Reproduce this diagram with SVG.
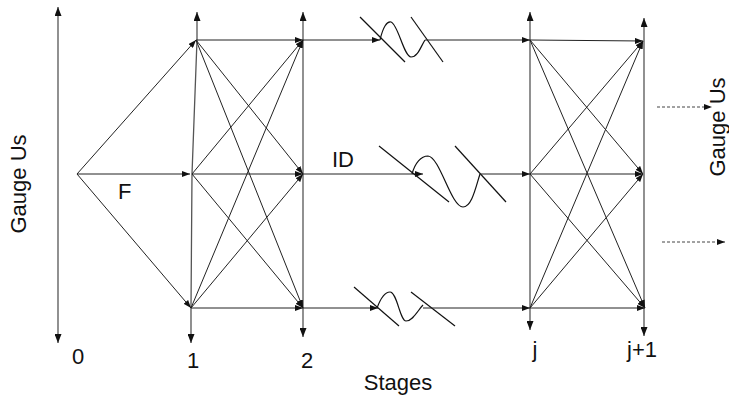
<svg xmlns="http://www.w3.org/2000/svg" width="729" height="396" viewBox="0 0 729 396">
<defs>
<marker id="ah" markerUnits="userSpaceOnUse" markerWidth="9" markerHeight="7" refX="9" refY="3.5" orient="auto-start-reverse">
<path d="M0,0 L9,3.5 L0,7 z" fill="#111"/>
</marker>
<marker id="ahs" markerUnits="userSpaceOnUse" markerWidth="8" markerHeight="6" refX="8" refY="3" orient="auto">
<path d="M0,0 L8,3 L0,6 z" fill="#111"/>
</marker>
</defs>
<style>
.ax{stroke:#555;stroke-width:1.3;fill:none}
.e{stroke:#222;stroke-width:1;fill:none}
.brk{stroke:#111;stroke-width:1.2;fill:none}
.d{stroke:#444;stroke-width:1;stroke-dasharray:3,2;fill:none}
text{font-family:"Liberation Sans",Arial,sans-serif;fill:#111}
.t{font-size:22px}
</style>
<rect width="729" height="396" fill="#fff"/>
<g id="axis-left">
<line class="ax" x1="58" y1="343" x2="58" y2="7" marker-start="url(#ah)" marker-end="url(#ah)"/>
<text class="t" text-anchor="middle" transform="translate(26,184) rotate(-90)">Gauge Us</text>
</g>
<g id="stage0"><text class="t" x="78" y="364" text-anchor="middle">0</text></g>
<g id="stage1">
<path class="ax" d="M197,12 L197,40 L192,174 L191,308 L191,343" marker-start="url(#ah)" marker-end="url(#ah)"/>
<text class="t" x="193" y="368" text-anchor="middle">1</text>
</g>
<g id="stage2">
<line class="ax" x1="303" y1="12" x2="303" y2="337" marker-start="url(#ah)" marker-end="url(#ah)"/>
<text class="t" x="307" y="368" text-anchor="middle">2</text>
</g>
<g id="stagej">
<line class="ax" x1="530" y1="12" x2="530" y2="330" marker-start="url(#ah)" marker-end="url(#ah)"/>
<text class="t" x="535" y="357" text-anchor="middle">j</text>
</g>
<g id="stagej1">
<line class="ax" x1="644" y1="18" x2="644" y2="336" marker-start="url(#ah)" marker-end="url(#ah)"/>
<text class="t" x="642" y="357" text-anchor="middle">j+1</text>
</g>
<g id="labels">
<text class="t" x="118" y="199">F</text>
<text class="t" x="332" y="167">ID</text>
<text class="t" font-size="23" x="398" y="390" text-anchor="middle">Stages</text>
<text class="t" text-anchor="middle" transform="translate(725,127) rotate(-90)">Gauge Us</text>
</g>
<g id="connectors">
<line class="e" x1="77" y1="174" x2="196" y2="40" marker-end="url(#ahs)"/>
<line class="e" x1="77" y1="174" x2="190" y2="174" marker-end="url(#ahs)"/>
<line class="e" x1="77" y1="174" x2="191" y2="308" marker-end="url(#ahs)"/>
<line class="e" x1="196" y1="40" x2="303" y2="40" marker-end="url(#ahs)"/>
<line class="e" x1="196" y1="40" x2="303" y2="174" marker-end="url(#ahs)"/>
<line class="e" x1="196" y1="40" x2="303" y2="308" marker-end="url(#ahs)"/>
<line class="e" x1="192" y1="174" x2="303" y2="40" marker-end="url(#ahs)"/>
<line class="e" x1="192" y1="174" x2="303" y2="174" marker-end="url(#ahs)"/>
<line class="e" x1="192" y1="174" x2="303" y2="308" marker-end="url(#ahs)"/>
<line class="e" x1="191" y1="308" x2="303" y2="40" marker-end="url(#ahs)"/>
<line class="e" x1="191" y1="308" x2="303" y2="174" marker-end="url(#ahs)"/>
<line class="e" x1="191" y1="308" x2="303" y2="308" marker-end="url(#ahs)"/>
<line class="e" x1="303" y1="40" x2="380" y2="40" marker-end="url(#ahs)"/>
<line class="brk" x1="360" y1="17" x2="405" y2="62"/>
<path class="brk" d="M380,40 C383,27 387,21 391,22 C398,24 404,57 411,57 C418,57 421,46 425,40"/>
<line class="brk" x1="411" y1="17" x2="443" y2="62"/>
<line class="e" x1="425" y1="40" x2="530" y2="40" marker-end="url(#ahs)"/>
<line class="e" x1="303" y1="174" x2="423" y2="174" marker-end="url(#ahs)"/>
<line class="brk" x1="379" y1="146" x2="449" y2="202"/>
<path class="brk" d="M412,174 C415,163 421,156 428,156 C440,157 451,207 463,207 C472,207 476,186 480,174"/>
<line class="brk" x1="455" y1="146" x2="506" y2="202"/>
<line class="e" x1="480" y1="174" x2="530" y2="174" marker-end="url(#ahs)"/>
<line class="e" x1="303" y1="308" x2="378" y2="308" marker-end="url(#ahs)"/>
<line class="brk" x1="354" y1="287" x2="399" y2="326"/>
<path class="brk" d="M377,308 C380,300 385,292 390,292 C397,292 400,321 406,321 C413,321 418,310 423,305"/>
<line class="brk" x1="411" y1="292" x2="455" y2="326"/>
<line class="e" x1="423" y1="308" x2="530" y2="308" marker-end="url(#ahs)"/>
<line class="e" x1="530" y1="40" x2="643" y2="41" marker-end="url(#ahs)"/>
<line class="e" x1="530" y1="40" x2="643" y2="174" marker-end="url(#ahs)"/>
<line class="e" x1="530" y1="40" x2="645" y2="308" marker-end="url(#ahs)"/>
<line class="e" x1="530" y1="174" x2="643" y2="41" marker-end="url(#ahs)"/>
<line class="e" x1="530" y1="174" x2="643" y2="174" marker-end="url(#ahs)"/>
<line class="e" x1="530" y1="174" x2="645" y2="308" marker-end="url(#ahs)"/>
<line class="e" x1="530" y1="308" x2="643" y2="41" marker-end="url(#ahs)"/>
<line class="e" x1="530" y1="308" x2="643" y2="174" marker-end="url(#ahs)"/>
<line class="e" x1="530" y1="308" x2="645" y2="308" marker-end="url(#ahs)"/>
<line class="d" x1="657" y1="107" x2="712" y2="107" marker-end="url(#ahs)"/>
<line class="d" x1="662" y1="242" x2="725" y2="242" marker-end="url(#ahs)"/>
</g>
</svg>
